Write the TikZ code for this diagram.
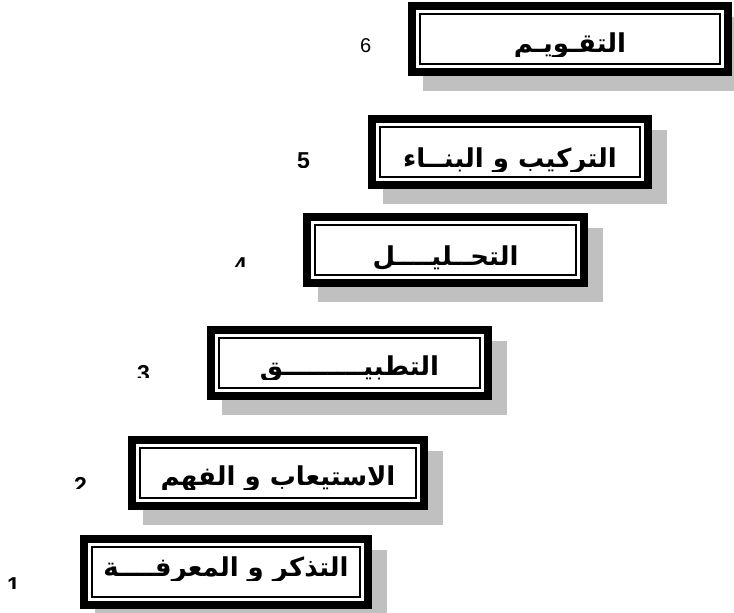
\documentclass[tikz,border=0pt]{standalone}
\usepackage{fontspec}
\setmainfont{Liberation Sans}
\newfontfamily\arabicfont[Script=Arabic]{DejaVu Sans}
\TeXXeTstate=1
\usetikzlibrary{backgrounds}
\definecolor{shadowgray}{RGB}{192,192,192}
\tikzset{
  levelbox/.style={draw=black, line width=8pt, fill=white, inner sep=0pt, outer sep=0pt, minimum height=66pt},
  innerframe/.style={draw=black, line width=2pt},
  shadowbox/.style={fill=shadowgray},
  leveltext/.style={font=\arabicfont\bfseries\fontsize{26}{30}\selectfont, anchor=base, inner sep=0pt},
  levelnum/.style={font=\bfseries\fontsize{23}{26}\selectfont, anchor=north west, inner sep=0pt},
  levelnumthin/.style={font=\fontsize{20}{24}\selectfont, anchor=north west, inner sep=0pt},
}
% #1 name, #2 cx, #3 cy, #4 width, #5 baseline offset, #6 text
\newcommand\steplevel[6]{%
  \node[levelbox, minimum width=#4pt] (#1) at (#2,#3) {};
  \draw[innerframe] ([shift={(8,8)}]#1.north west) rectangle ([shift={(-8,-8)}]#1.south east);
  \begin{scope}
    \clip (#2-200,#3-30) rectangle (#2+200,#3+#5+4);
    \node[leveltext] (#1t) at (#2,#3+#5) {#6};
  \end{scope}
  \begin{scope}[on background layer]
    \fill[shadowbox] ([shift={(11,11)}]#1.north west) rectangle ([shift={(19,19)}]#1.south east);
  \end{scope}
}
% #1 name, #2 style, #3 x, #4 top, #5 visible height, #6 text
\newcommand\levelnumber[6]{%
  \begin{scope}
    \clip (#3-5,#4-5) rectangle (#3+25,#4+#5);
    \node[#2] (#1) at (#3,#4) {#6};
  \end{scope}
}
\begin{document}
\begin{tikzpicture}[x=1pt,y=-1pt]
  \path[use as bounding box, clip] (0,0) rectangle (734,613);
  \steplevel{l6}{570}{38.5}{316}{14}{\beginR التقـويـم\endR}
  \steplevel{l5}{510}{152}{276}{15}{\beginR التركيب و البنــاء\endR}
  \steplevel{l4}{445.5}{250}{277}{15}{\beginR التحــليــــل\endR}
  \steplevel{l3}{349.5}{362.5}{277}{12.5}{\beginR التطبيـــــــــق\endR}
  \steplevel{l2}{278}{472.5}{292}{12.5}{\beginR الاستيعاب و الفهم\endR}
  \steplevel{l1}{226}{571.5}{284}{5}{\beginR التذكر و  المعرفــــة\endR}
  \levelnumber{n6}{levelnumthin}{360}{38}{20}{6}
  \levelnumber{n5}{levelnum}{297}{152}{15}{5}
  \levelnumber{n4}{levelnum}{234}{257}{9}{4}
  \levelnumber{n3}{levelnum}{137}{365}{12}{3}
  \levelnumber{n2}{levelnum}{74}{477}{11}{2}
  \levelnumber{n1}{levelnum}{7}{577}{11}{1}
\end{tikzpicture}
\end{document}
